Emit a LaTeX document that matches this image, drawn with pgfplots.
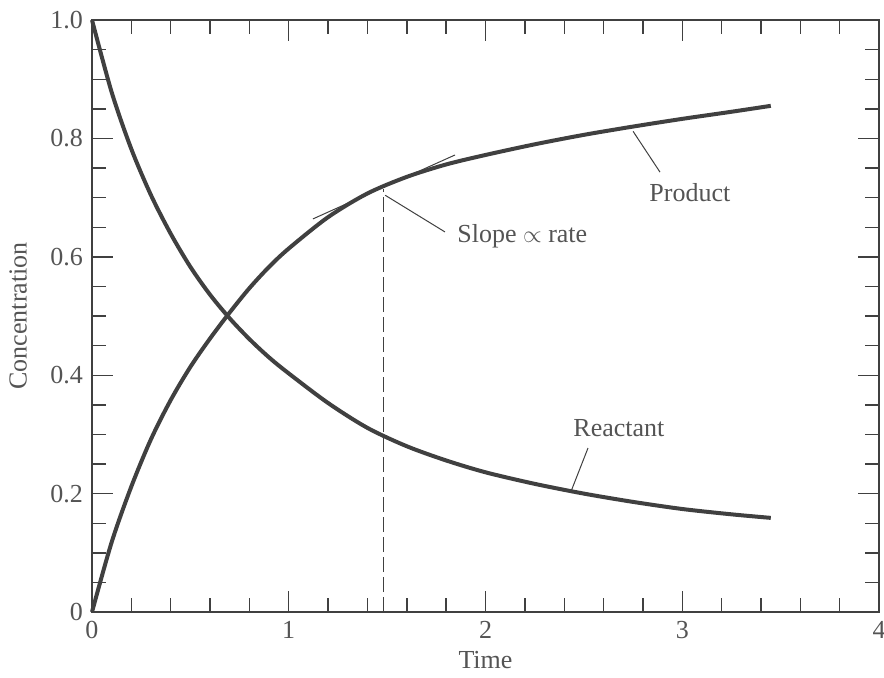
\documentclass[border=0pt]{standalone}
\usepackage{fontspec}
\setmainfont{Liberation Serif}
\usepackage{pgfplots}
\pgfplotsset{compat=1.18}
\definecolor{ink}{gray}{0.25}
\definecolor{txt}{gray}{0.33}
\begin{document}
\fontsize{13}{15}\selectfont
\begin{tikzpicture}
\useasboundingbox (-46pt,-32.5pt) rectangle (396pt,306pt);
\begin{axis}[
  scale only axis, width=393.5pt, height=296pt,
  xmin=0, xmax=4, ymin=0, ymax=1,
  xtick={0,1,2,3,4}, minor x tick num=4,
  ytick={0,0.2,0.4,0.6,0.8,1.0}, yticklabels={0,0.2,0.4,0.6,0.8,1.0},
  minor y tick num=3,
  major tick length=10.5pt, minor tick length=7pt,
  tick style={draw=ink, line width=0.7pt},
  axis line style={draw=ink, line width=1pt},
  tick label style={font=\fontsize{13}{15}\selectfont, text=txt},
  /pgf/number format/assume math mode=true,
  xlabel={Time}, ylabel={Concentration},
  label style={font=\fontsize{13}{15}\selectfont, text=txt},
  xlabel style={at={(axis description cs:0.5,-0.081)}, anchor=center},
  ylabel style={at={(axis description cs:-0.094,0.5)}, anchor=center},
  clip=false,
]
% Reactant
\addplot[ink, line width=2pt, smooth] coordinates {
(0,1.0) (0.1,0.878) (0.2,0.782) (0.3,0.704) (0.4,0.639) (0.5,0.583)
(0.6,0.536) (0.7,0.496) (0.8,0.461) (0.9,0.430) (1.0,0.403) (1.2,0.353)
(1.4,0.311) (1.6,0.280) (1.8,0.256) (2.0,0.236) (2.25,0.2165) (2.5,0.200)
(2.75,0.186) (3.0,0.174) (3.25,0.165) (3.45,0.159)
};
% Product
\addplot[ink, line width=2pt, smooth] coordinates {
(0,0) (0.1,0.118) (0.2,0.212) (0.3,0.292) (0.4,0.358) (0.5,0.414)
(0.6,0.462) (0.7,0.506) (0.8,0.547) (0.9,0.583) (1.0,0.614) (1.2,0.667)
(1.4,0.707) (1.6,0.735) (1.8,0.756) (2.0,0.772) (2.25,0.790) (2.5,0.806)
(2.75,0.820) (3.0,0.833) (3.25,0.845) (3.45,0.855)
};
% tangent
\addplot[ink, line width=0.5pt] coordinates {(1.123,0.664) (1.845,0.772)};
% dashed drop line
\addplot[ink, line width=0.6pt, dash pattern=on 7.5pt off 2.5pt] coordinates {(1.48,0) (1.48,0.714)};
% pointers
\addplot[ink, line width=0.5pt] coordinates {(1.49,0.704) (1.794,0.642)};
\addplot[ink, line width=0.5pt] coordinates {(2.75,0.812) (2.887,0.743)};
\addplot[ink, line width=0.5pt] coordinates {(2.521,0.277) (2.435,0.204)};
\node[anchor=west, text=txt, inner sep=0pt] at (axis cs:1.855,0.635) {Slope $\propto$ rate};
\node[anchor=west, text=txt, inner sep=0pt] at (axis cs:2.831,0.709) {Product};
\node[anchor=west, text=txt, inner sep=0pt] at (axis cs:2.445,0.311) {Reactant};
\end{axis}
\end{tikzpicture}
\end{document}
